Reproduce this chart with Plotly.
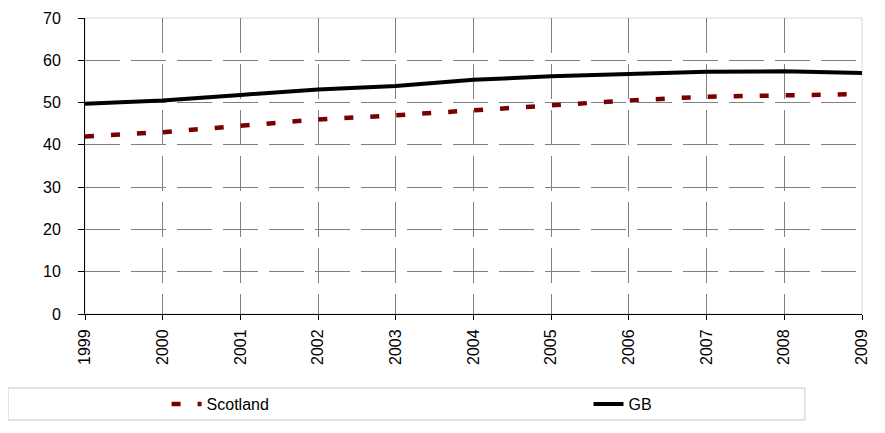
import plotly.graph_objects as go

years = [1999, 2000, 2001, 2002, 2003, 2004, 2005, 2006, 2007, 2008, 2009]
scotland = [42.0, 43.0, 44.5, 46.0, 47.0, 48.2, 49.5, 50.5, 51.4, 51.8, 52.0]
gb = [49.7, 50.5, 51.8, 53.1, 53.9, 55.4, 56.2, 56.7, 57.3, 57.4, 57.0]

fig = go.Figure()
fig.add_trace(go.Scatter(x=years, y=scotland, name="Scotland", mode="lines", legend="legend",
                         line=dict(color="#7a0000", width=4.5, dash="9px,17px")))
fig.add_trace(go.Scatter(x=years, y=gb, name="GB", mode="lines", legend="legend2",
                         line=dict(color="#000000", width=4)))

font = dict(family="Liberation Sans, Arial, sans-serif", size=16, color="#000000")
lfont = dict(family="Liberation Sans Narrow, Liberation Sans, Arial, sans-serif", size=16, color="#000000")

fig.update_layout(
    width=885, height=433,
    margin=dict(l=77, r=31, t=10, b=127, autoexpand=False),
    paper_bgcolor="white", plot_bgcolor="white",
    font=font,
    showlegend=True,
    legend=dict(orientation="h", x=0.105, y=-0.304, xanchor="left", yanchor="middle",
                font=lfont, bgcolor="rgba(0,0,0,0)"),
    legend2=dict(orientation="h", x=0.648, y=-0.304, xanchor="left", yanchor="middle",
                 font=lfont, bgcolor="rgba(0,0,0,0)"),
    xaxis=dict(range=[1999, 2009], tickmode="linear", tick0=1999, dtick=1,
               tickangle=-90, showgrid=True, gridcolor="#808080", griddash="35px,11px",
               gridwidth=1, showline=True, linecolor="black", linewidth=1,
               ticks="outside", ticklen=5, tickcolor="black", zeroline=False,
               tickfont=font, ticklabelstandoff=3),
    yaxis=dict(range=[0, 70], tickmode="linear", tick0=0, dtick=10,
               showgrid=True, gridcolor="#808080", griddash="35px,11px",
               gridwidth=1, showline=True, linecolor="black", linewidth=1,
               ticks="outside", ticklen=6, tickcolor="black", zeroline=False,
               tickfont=font, ticklabelstandoff=14),
    shapes=[
        dict(type="rect", xref="paper", yref="paper", x0=0, x1=1, y0=0, y1=1,
             line=dict(color="#d9d9d9", width=1), layer="below"),
        dict(type="rect", xref="paper", yref="paper", x0=-0.0991, x1=0.9266,
             y0=-0.25, y1=-0.358, line=dict(color="#c8c8c8", width=1), layer="below"),
    ],
)

fig.write_html("out.html")
